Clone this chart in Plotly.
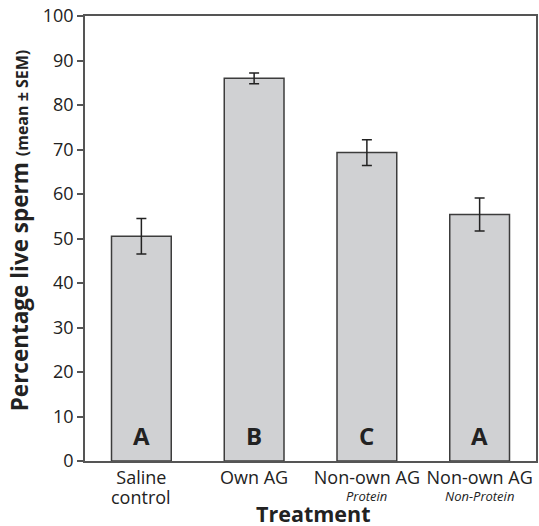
import plotly.graph_objects as go

main_labels = ["Saline", "Own AG", "Non-own AG", "Non-own AG"]
sub_labels = ["control", "", "Protein", "Non-Protein"]
sub_italic = [False, False, True, True]
means = [50.5, 86.0, 69.3, 55.4]
sems = [4.0, 1.2, 2.9, 3.7]
letters = ["A", "B", "C", "A"]
xpos = [0, 1, 2, 3]

font = "Open Sans"
W, H = 539, 526
ml, mr, mt, mb = 85, 1, 16, 65
ph = H - mt - mb
pw = W - ml - mr

def ypaper(px):
    return (H - mb - px) / ph

def xpaper(px):
    return (px - ml) / pw

fig = go.Figure()
fig.add_trace(go.Bar(
    x=xpos, y=means, width=0.53,
    marker=dict(color="#D0D1D3", line=dict(color="#3c3c3c", width=1.5)),
    error_y=dict(type="data", array=sems, visible=True, color="#222222",
                 thickness=1.5, width=5),
    showlegend=False,
))
for x, l in zip(xpos, letters):
    fig.add_annotation(x=x, y=5.8, text=f"<b>{l}</b>", showarrow=False,
                       yanchor="middle", font=dict(family=font, size=24, color="#222222"))

for x, s, it in zip(xpos, sub_labels, sub_italic):
    if not s:
        continue
    txt = f"<i>{s}</i>" if it else s
    fig.add_annotation(x=x, xref="x", y=ypaper(497 if not it else 496), yref="paper", text=txt,
                       showarrow=False, yanchor="middle", borderpad=0,
                       font=dict(family=font, size=13 if it else 18, color="#222222"))

fig.add_annotation(x=xpaper(315), xref="paper", y=ypaper(513), yref="paper",
                   text="<b>Treatment</b>", showarrow=False, yanchor="middle", borderpad=0,
                   font=dict(family=font, size=21.5, color="#222222"))
fig.add_annotation(x=xpaper(19), xref="paper", y=ypaper(230), yref="paper",
                   text="<b>Percentage live sperm <span style='font-size:16px'>(mean ± SEM)</span></b>",
                   showarrow=False, textangle=-90, xanchor="center", yanchor="middle",
                   font=dict(family=font, size=22.5, color="#222222"))

fig.update_layout(
    width=W, height=H,
    margin=dict(l=ml, r=mr, t=mt, b=mb),
    plot_bgcolor="white", paper_bgcolor="white",
    font=dict(family=font, size=18, color="#222222"),
)
fig.update_xaxes(
    tickvals=xpos, ticktext=main_labels, range=[-0.5, 3.5],
    showline=True, linecolor="#555555", linewidth=1.5, mirror=True,
    ticks="", showgrid=False, zeroline=False,
    tickfont=dict(size=18),
)
fig.update_yaxes(
    range=[0, 100], dtick=10,
    showline=True, linecolor="#555555", linewidth=1.5, mirror=True,
    ticks="outside", ticklen=6, tickcolor="#555555", tickwidth=1.5,
    showgrid=False, zeroline=False, tickfont=dict(size=18),
)
fig.write_html("out.html")
